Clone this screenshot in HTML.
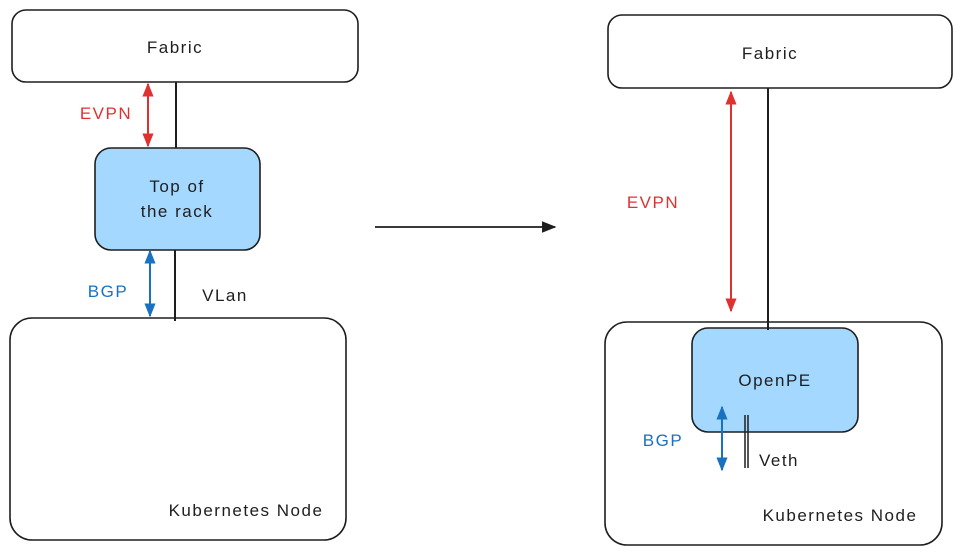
<!DOCTYPE html>
<html><head><meta charset="utf-8"><style>
html,body{margin:0;padding:0;background:#fff;}
svg text{font-family:"Liberation Sans",sans-serif;font-size:17px;letter-spacing:1.5px;}
</style></head><body>
<svg width="965" height="554" viewBox="0 0 965 554" xmlns="http://www.w3.org/2000/svg">
<defs>
<marker id="ar" viewBox="0 0 10 10" refX="9" refY="5" markerWidth="7" markerHeight="7" orient="auto-start-reverse"><path d="M0,1 L10,5 L0,9 z" fill="#e03131"/></marker>
<marker id="ab" viewBox="0 0 10 10" refX="9" refY="5" markerWidth="7" markerHeight="7" orient="auto-start-reverse"><path d="M0,1 L10,5 L0,9 z" fill="#1971c2"/></marker>
<marker id="ak" viewBox="0 0 10 10" refX="9" refY="5" markerWidth="8" markerHeight="8" orient="auto"><path d="M0,1 L10,5 L0,9 z" fill="#1e1e1e"/></marker>
</defs>
<g fill="none" stroke="#1e1e1e" stroke-width="1.6">
<rect x="12" y="10" width="346" height="72" rx="14"/>
<rect x="608" y="15" width="344" height="73" rx="14"/>
<rect x="10" y="318" width="336" height="222" rx="22"/>
<rect x="605" y="322" width="337" height="223" rx="22"/>
<rect x="95" y="148" width="165" height="102" rx="16" fill="#a5d8ff"/>
<rect x="692" y="328" width="166" height="104" rx="16" fill="#a5d8ff"/>
<line x1="176" y1="82" x2="176" y2="148" stroke-width="2"/>
<line x1="175" y1="250" x2="175" y2="321" stroke-width="2"/>
<line x1="768" y1="88" x2="768" y2="330" stroke-width="2"/>
<line x1="745" y1="415" x2="745" y2="468" stroke-width="1.5"/>
<line x1="748" y1="415" x2="748" y2="468" stroke-width="1.5"/>
<line x1="375" y1="227" x2="555" y2="227" stroke-width="1.8" marker-end="url(#ak)"/>
</g>
<g fill="none" stroke-width="2">
<line x1="148" y1="84" x2="148" y2="146" stroke="#e03131" marker-start="url(#ar)" marker-end="url(#ar)"/>
<line x1="731" y1="92" x2="731" y2="311" stroke="#e03131" marker-start="url(#ar)" marker-end="url(#ar)"/>
<line x1="150" y1="251" x2="150" y2="316" stroke="#1971c2" marker-start="url(#ab)" marker-end="url(#ab)"/>
<line x1="722" y1="407" x2="722" y2="470" stroke="#1971c2" marker-start="url(#ab)" marker-end="url(#ab)"/>
</g>
<g fill="#1e1e1e" text-anchor="middle">
<text x="175" y="53">Fabric</text>
<text x="770" y="59">Fabric</text>
<text x="177" y="192">Top of</text>
<text x="177" y="217">the rack</text>
<text x="775" y="386">OpenPE</text>
<text x="225" y="301">VLan</text>
<text x="779" y="466">Veth</text>
<text x="246" y="516">Kubernetes Node</text>
<text x="840" y="521">Kubernetes Node</text>
</g>
<g text-anchor="middle">
<text x="106" y="119" fill="#e03131">EVPN</text>
<text x="653" y="208" fill="#e03131">EVPN</text>
<text x="108" y="297" fill="#1971c2">BGP</text>
<text x="663" y="446" fill="#1971c2">BGP</text>
</g>
</svg>
</body></html>
